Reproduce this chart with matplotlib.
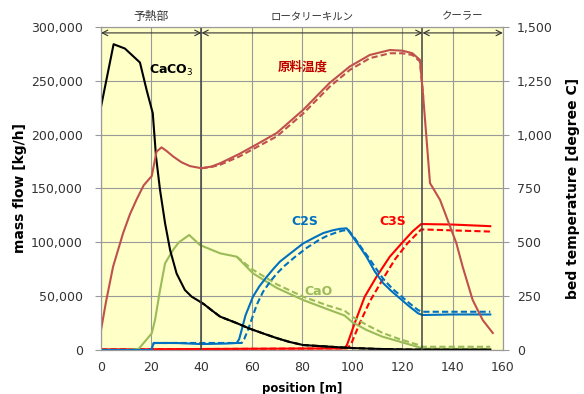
import matplotlib
matplotlib.use("Agg")
import matplotlib.pyplot as plt
from matplotlib.ticker import FuncFormatter

# -----------------------------
# Data
# -----------------------------

pos_caco3 = [0, 5, 9.5, 15.5, 18.2, 20.6, 21.9, 23.5, 25.5, 27.5, 30.1, 33.4, 36.1, 39.4, 41, 44, 47.4, 54, 59, 65, 70, 75, 80.5, 88, 95, 100, 110, 120, 128, 140, 155]
caco3 = [226000, 284000, 280000, 267000, 241000, 220000, 179500, 148600, 117700, 92900, 71000, 55700, 49500, 44900, 42500, 37000, 31000, 25000, 20000, 15000, 11000, 7500, 4600, 3500, 2500, 1800, 1000, 500, 300, 200, 200]

pos_temp = [0, 2, 4.8, 8.8, 11.5, 14.2, 17, 20.2, 22.1, 24.1, 26, 28.8, 32, 35.4, 40, 44, 47.4, 55, 62, 70, 80.5, 91, 99, 107, 115, 120, 124, 127, 128.3, 131, 135, 141.5, 144, 148, 152, 156]
temp = [93, 225, 387, 543, 630, 700, 765, 808, 921, 941, 925, 898, 872, 854, 844, 852, 867, 910, 955, 1008, 1115, 1240, 1316, 1370, 1393, 1390, 1378, 1347, 1176, 775, 697, 496, 387, 232, 139, 79]
pos_temp_d = [40, 44, 47.4, 55, 62, 70, 80.5, 91, 99, 107, 115, 120, 124, 127, 128.3]
temp_d = [844, 850, 860, 898, 942, 992, 1098, 1222, 1300, 1355, 1378, 1378, 1370, 1340, 1176]

pos_cao = [0, 10, 15, 20.2, 21.5, 23.5, 25.5, 28.7, 31, 35.1, 39.4, 47.4, 54, 60.5, 70, 80.5, 90, 97, 100, 105.7, 112, 119, 126, 128, 140, 155]
cao = [0, 0, 1000, 15500, 27900, 55700, 80500, 93000, 100000, 106800, 97500, 89800, 86700, 71200, 57600, 46400, 38000, 32000, 26000, 18600, 12400, 7700, 3000, 1200, 1000, 1000]
pos_cao_d = [54, 60.5, 70, 80.5, 90, 97, 100, 106, 112, 119, 126, 128, 155]
cao_d = [86700, 74500, 61000, 49500, 41500, 36500, 31000, 23000, 16000, 10000, 5000, 3000, 3000]

pos_c2s = [0, 20, 21, 30, 40, 50, 54, 55, 56, 57.5, 60.5, 63, 66, 68.5, 71.2, 75, 80.5, 85, 88.5, 92, 95, 97.8, 100, 103, 105.7, 109, 112.4, 115.5, 119, 122.5, 126.3, 128, 140, 155]
c2s = [0, 0, 6500, 6500, 5500, 6000, 6500, 10000, 18600, 32000, 49500, 59000, 68000, 75000, 82000, 89000, 99000, 104500, 108600, 111000, 112500, 113000, 106000, 96000, 86700, 73000, 62000, 55000, 48000, 41000, 34000, 32500, 33000, 33000]
pos_c2s_d = [0, 20, 21, 54, 56, 57, 58.5, 62, 64.5, 67.5, 70, 73, 77, 82, 87, 90, 93.5, 96, 98.5, 101, 104, 106.5, 110, 112.4, 116, 119, 123, 126.3, 128, 155]
c2s_d = [0, 0, 6500, 6500, 6500, 10000, 18600, 42000, 54000, 64000, 71000, 78000, 86000, 95000, 102500, 106000, 109000, 110800, 111500, 104000, 94000, 86000, 74000, 66000, 57000, 51000, 43000, 37000, 35500, 35500]

pos_c3s = [0, 97, 98, 101, 105, 109.7, 115, 120.3, 124, 127.5, 140, 155]
c3s = [500, 1500, 5000, 24800, 49500, 68000, 86700, 100600, 110000, 117000, 116500, 115000]
pos_c3s_d = [0, 98, 99.5, 103, 107, 112, 117, 122, 127.5, 155]
c3s_d = [500, 1500, 5000, 24800, 45000, 65000, 84000, 99000, 112000, 110000]

sections = [(0, 40, "予熱部"), (40, 128, "ロータリーキルン"), (128, 160, "クーラー")]

# -----------------------------
# Figure
# -----------------------------

plt.rcParams["font.family"] = ["DejaVu Sans", "Noto Sans CJK JP"]
jp = ["Noto Sans CJK JP", "DejaVu Sans"]

fig = plt.figure(figsize=(5.84, 3.94), dpi=100)
ax = fig.add_axes([0.173, 0.1117, 0.688, 0.8198])
ax.set_facecolor("#FFFFC8")

lw = 1.5
dash = (0, (3, 1.5))
ax.plot(pos_c3s, c3s, color="#FF0000", lw=lw)
ax.plot(pos_c3s_d, c3s_d, color="#FF0000", lw=lw, ls=dash)
ax.plot(pos_cao, cao, color="#9BBB59", lw=lw)
ax.plot(pos_cao_d, cao_d, color="#9BBB59", lw=lw, ls=dash)
ax.plot(pos_c2s, c2s, color="#0070C0", lw=lw)
ax.plot(pos_c2s_d, c2s_d, color="#0070C0", lw=lw, ls=dash)
ax.plot(pos_caco3, caco3, color="black", lw=lw)
ax.plot(pos_caco3[13:], caco3[13:], color="black", lw=lw, ls=dash)

ax.set_xlim(0, 160)
ax.set_ylim(0, 300000)
ax.set_xticks(range(0, 161, 20))
ax.set_yticks(range(0, 300001, 50000))
ax.yaxis.set_major_formatter(FuncFormatter(lambda v, p: f"{int(v):,}"))
ax.grid(True, color="#999999", lw=0.8)
ax.set_axisbelow(True)
for s in ax.spines.values():
    s.set_color("#999999")
ax.tick_params(axis="both", colors="#999999", labelcolor="#333333", labelsize=9, length=4)
ax.tick_params(axis="y", pad=9)
ax.tick_params(axis="x", length=0, pad=8)

# section boundaries
for xb in [40, 128]:
    ax.axvline(xb, color="#404040", lw=1.1)

# section arrows and labels
for x0, x1, name in sections:
    ax.annotate("", xy=(x0, 294500), xytext=(x1, 294500),
                arrowprops=dict(arrowstyle="<->", color="#333333", lw=0.8, shrinkA=0, shrinkB=0))
    ax.text((x0 + x1) / 2, 1.032, name, transform=ax.get_xaxis_transform(),
            ha="center", va="center", fontsize=8.5 if len(name) <= 3 else 7.5,
            family=jp, color="#333333")

ax.set_xlabel("position [m]", fontsize=8.5, fontweight="bold", labelpad=6)
ax.set_ylabel("mass flow [kg/h]", fontsize=10, fontweight="bold", labelpad=3)

# temperature axis
ax2 = ax.twinx()
ax2.plot(pos_temp, temp, color="#C0504D", lw=lw)
ax2.plot(pos_temp_d, temp_d, color="#C0504D", lw=lw, ls=dash)
ax2.set_ylim(0, 1500)
ax2.set_yticks(range(0, 1501, 250))
ax2.yaxis.set_major_formatter(FuncFormatter(lambda v, p: f"{int(v):,}"))
for s in ax2.spines.values():
    s.set_color("#999999")
ax2.tick_params(axis="y", colors="#999999", labelcolor="#333333", labelsize=9, length=4, pad=6)
ax2.set_ylabel("bed temperature [degree C]", fontsize=10, fontweight="bold", labelpad=10)

# series labels
ax.text(27.9, 260000, "CaCO$_3$", fontsize=9, fontweight="bold", ha="center", va="center")
ax.text(80.3, 263000, "原料温度", fontsize=9, fontweight="bold", ha="center", va="center",
        color="#C00000", family=jp)
ax.text(81.2, 119000, "C2S", fontsize=9, fontweight="bold", ha="center", va="center", color="#0070C0")
ax.text(116.3, 119000, "C3S", fontsize=9, fontweight="bold", ha="center", va="center", color="#FF0000")
ax.text(86.5, 54000, "CaO", fontsize=9, fontweight="bold", ha="center", va="center", color="#9BBB59")

fig.savefig("out.png", dpi=100)
